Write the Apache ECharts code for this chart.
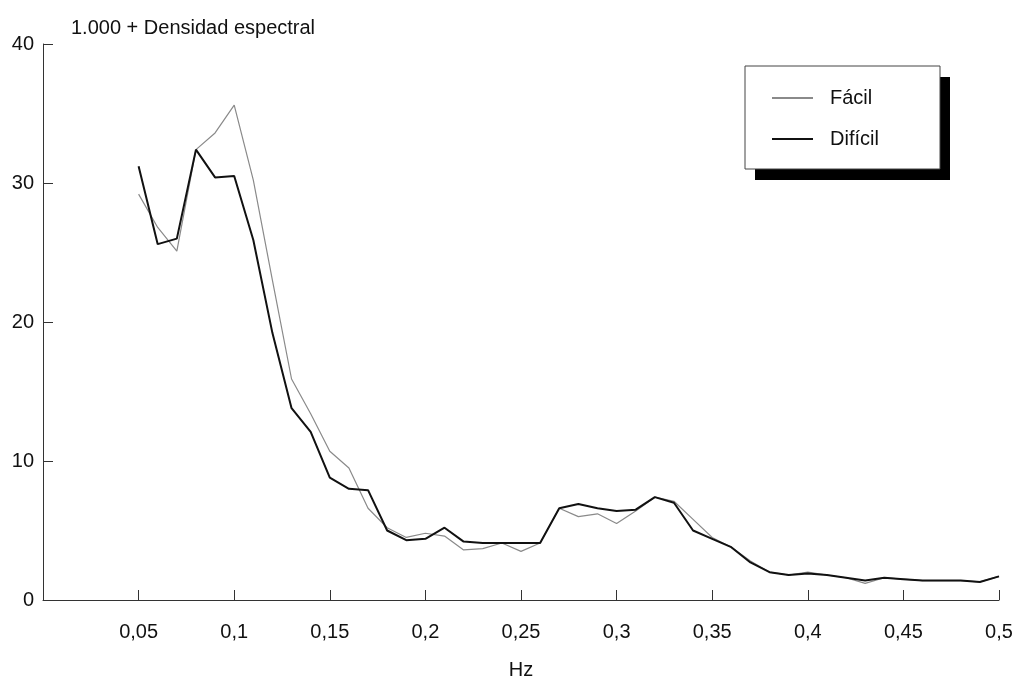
<!DOCTYPE html>
<html>
<head>
<meta charset="utf-8">
<script src="https://cdn.jsdelivr.net/npm/echarts@6/dist/echarts.min.js"></script>
<style>
  html, body { margin: 0; padding: 0; background: #fff; }
  #main { width: 1020px; height: 679px; }
</style>
</head>
<body>
<div id="main"></div>
<script>
// frecuencias (Hz)
var hz = [0.05, 0.06, 0.07, 0.08, 0.09, 0.10, 0.11, 0.12, 0.13, 0.14,
          0.15, 0.16, 0.17, 0.18, 0.19, 0.20, 0.21, 0.22, 0.23, 0.24,
          0.25, 0.26, 0.27, 0.28, 0.29, 0.30, 0.31, 0.32, 0.33, 0.34,
          0.35, 0.36, 0.37, 0.38, 0.39, 0.40, 0.41, 0.42, 0.43, 0.44,
          0.45, 0.46, 0.47, 0.48, 0.49, 0.50];
// densidad espectral, tarea fácil
var facil = [29.2, 26.8, 25.1, 32.4, 33.6, 35.6, 30.2, 23.0, 15.9, 13.4,
             10.7, 9.5, 6.6, 5.2, 4.5, 4.8, 4.6, 3.6, 3.7, 4.1,
             3.5, 4.1, 6.6, 6.0, 6.2, 5.5, 6.4, 7.4, 7.1, 5.8,
             4.5, 3.8, 2.8, 2.0, 1.8, 2.0, 1.8, 1.6, 1.2, 1.6,
             1.5, 1.4, 1.4, 1.4, 1.3, 1.7];
// densidad espectral, tarea difícil
var dificil = [31.2, 25.6, 26.0, 32.4, 30.4, 30.5, 25.9, 19.2, 13.8, 12.1,
               8.8, 8.0, 7.9, 5.0, 4.3, 4.4, 5.2, 4.2, 4.1, 4.1,
               4.1, 4.1, 6.6, 6.9, 6.6, 6.4, 6.5, 7.4, 7.0, 5.0,
               4.4, 3.8, 2.7, 2.0, 1.8, 1.9, 1.8, 1.6, 1.4, 1.6,
               1.5, 1.4, 1.4, 1.4, 1.3, 1.7];

function pares(vals) {
    return hz.map(function (h, i) { return [h, vals[i]]; });
}

var fuente = '"Liberation Sans", Arial, sans-serif';
var myChart = echarts.init(document.getElementById('main'));
var option = {
    backgroundColor: '#fff',
    animation: false,
    textStyle: { fontFamily: fuente, color: '#111' },
    title: {
        text: '1.000 + Densidad espectral',
        left: 66,
        top: 13,
        textStyle: { fontFamily: fuente, fontSize: 20, fontWeight: 'normal', color: '#111' }
    },
    grid: { left: 43, right: 21, top: 44, bottom: 79, outerBoundsMode: 'none' },
    // recuadro de la leyenda con sombra
    graphic: [
        {
            type: 'rect',
            shape: { x: 755, y: 77, width: 195, height: 103 },
            style: { fill: '#000' },
            z: 10
        },
        {
            type: 'rect',
            shape: { x: 745, y: 66, width: 195, height: 103 },
            style: { fill: '#fff', stroke: '#444', lineWidth: 1 },
            z: 11
        }
    ],
    legend: {
        orient: 'vertical',
        left: 767,
        top: 83,
        itemWidth: 41,
        itemHeight: 2,
        itemGap: 21,
        z: 20,
        data: [
            { name: 'Fácil', icon: 'rect', itemStyle: { color: '#8a8a8a' } },
            { name: 'Difícil', icon: 'rect', itemStyle: { color: '#111' } }
        ],
        textStyle: { fontFamily: fuente, fontSize: 20, color: '#111', padding: [0, 0, 0, 12] }
    },
    xAxis: {
        type: 'value',
        min: 0,
        max: 0.5,
        interval: 0.05,
        name: 'Hz',
        nameLocation: 'middle',
        nameGap: 60,
        nameTextStyle: { fontFamily: fuente, fontSize: 20, color: '#111' },
        splitLine: { show: false },
        axisLine: { onZero: false, lineStyle: { color: '#333', width: 1 } },
        axisTick: { inside: true, length: 10, lineStyle: { color: '#333' } },
        axisLabel: {
            margin: 22,
            fontFamily: fuente,
            fontSize: 20,
            color: '#111',
            formatter: function (v) {
                if (v === 0) return '';
                return String(Math.round(v * 100) / 100).replace('.', ',');
            }
        }
    },
    yAxis: {
        type: 'value',
        min: 0,
        max: 40,
        interval: 10,
        splitLine: { show: false },
        axisLine: { show: true, lineStyle: { color: '#333', width: 1 } },
        axisTick: { show: true, inside: true, length: 10, lineStyle: { color: '#333' } },
        axisLabel: { margin: 9, fontFamily: fuente, fontSize: 20, color: '#111' }
    },
    series: [
        {
            name: 'Fácil',
            type: 'line',
            symbol: 'none',
            color: '#8a8a8a',
            lineStyle: { color: '#8a8a8a', width: 1.2 },
            data: pares(facil)
        },
        {
            name: 'Difícil',
            type: 'line',
            symbol: 'none',
            color: '#111',
            lineStyle: { color: '#111', width: 2 },
            data: pares(dificil)
        }
    ]
};
myChart.setOption(option);
</script>
</body>
</html>
